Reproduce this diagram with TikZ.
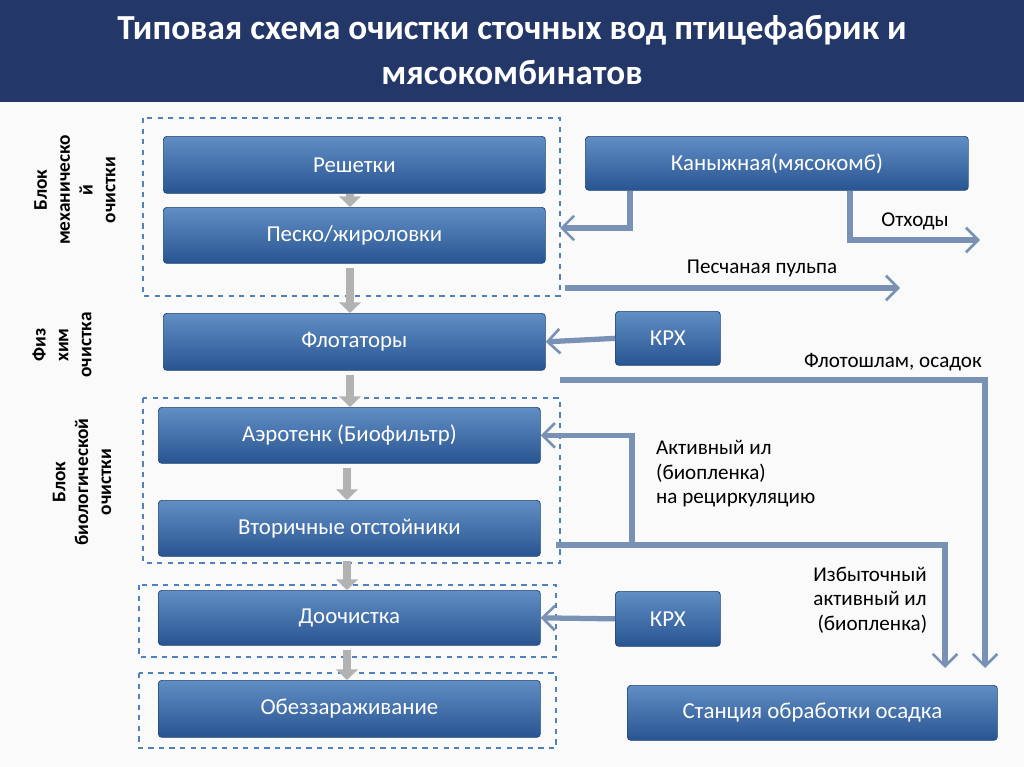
\documentclass[tikz,border=0pt]{standalone}
\usepackage{fontspec}
\setmainfont{Carlito}
\usetikzlibrary{arrows.meta}
\definecolor{boxtop}{RGB}{79,129,189}
\definecolor{boxbot}{RGB}{40,85,145}
\definecolor{pipec}{RGB}{120,145,180}
\definecolor{titlebg}{RGB}{35,55,105}
\begin{document}
\begin{tikzpicture}[x=0.02cm,y=-0.02cm]
  % Стили
  \tikzset{
      blk/.style={draw=boxbot!80!black, rounded corners=2pt, top color=boxtop!90, bottom color=boxbot,
                  text=white, font=\fontsize{13}{15}\selectfont, anchor=north west, inner sep=0pt},
      grp/.style={draw=boxtop, dashed, line width=1pt},
      pipe/.style={draw=pipec, line width=3pt, -{Straight Barb[length=7pt,width=14pt,line width=1.5pt]}},
      pipeln/.style={draw=pipec, line width=3pt},
      down/.style={draw=gray!60, line width=5pt, -{Triangle[length=6pt,width=12pt]}},
      lbl/.style={font=\fontsize{12}{14}\selectfont, align=left},
      side/.style={font=\bfseries\fontsize{11}{13}\selectfont, rotate=90, align=center}
  }
  \useasboundingbox (0,0) rectangle (1024,767);
  \fill[gray!4] (0,0) rectangle (1024,767);
  \fill[titlebg] (0,0) rectangle (1024,102);
  \node[text=white, font=\bfseries\fontsize{20}{26}\selectfont, align=center] (title) at (512,50)
      {Типовая схема очистки сточных вод птицефабрик и\\мясокомбинатов};

  % Блоки
  \node[blk, minimum width=382*0.02cm, minimum height=57*0.02cm] (resh) at (163,136) {Решетки};
  \node[blk, minimum width=382*0.02cm, minimum height=56*0.02cm] (pesk) at (163,207) {Песко/жироловки};
  \node[blk, minimum width=383*0.02cm, minimum height=54*0.02cm] (kan) at (585,136) {Каныжная(мясокомб)};
  \node[blk, minimum width=382*0.02cm, minimum height=57*0.02cm] (flot) at (163,313) {Флотаторы};
  \node[blk, minimum width=105*0.02cm, minimum height=54*0.02cm] (krxa) at (615,311) {КРХ};
  \node[blk, minimum width=382*0.02cm, minimum height=56*0.02cm] (aero) at (158,407) {Аэротенк (Биофильтр)};
  \node[blk, minimum width=382*0.02cm, minimum height=56*0.02cm] (vtor) at (158,500) {Вторичные отстойники};
  \node[blk, minimum width=382*0.02cm, minimum height=55*0.02cm] (doo) at (158,590) {Доочистка};
  \node[blk, minimum width=105*0.02cm, minimum height=55*0.02cm] (krxb) at (615,591) {КРХ};
  \node[blk, minimum width=382*0.02cm, minimum height=57*0.02cm] (obez) at (158,680) {Обеззараживание};
  \node[blk, minimum width=370*0.02cm, minimum height=55*0.02cm] (stan) at (627,685) {Станция обработки осадка};

  % Группы
  \draw[grp] (143,118) rectangle (560,296);
  \draw[grp] (143,398) rectangle (560,563);
  \draw[grp] (139,585) rectangle (556,657);
  \draw[grp] (139,673) rectangle (556,748);

  % Подписи блоков
  \node[side] (smech) at (75,190) {Блок\\механическо\\й\\очистки};
  \node[side] (sfiz) at (62,345) {Физ\\хим\\очистка};
  \node[side] (sbio) at (82,482) {Блок\\биологической\\очистки};

  % Переходы вниз
  \draw[down] (resh.south -| 350,0) -- (pesk.north -| 350,0);
  \draw[down] (pesk.south -| 350,0) ++(0,4) -- (flot.north -| 350,0);
  \draw[down] (flot.south -| 350,0) ++(0,4) -- (aero.north -| 350,0);
  \draw[down] (aero.south -| 347,0) ++(0,4) -- (vtor.north -| 347,0);
  \draw[down] (vtor.south -| 347,0) ++(0,4) -- (doo.north -| 347,0);
  \draw[down] (doo.south -| 347,0) ++(0,4) -- (obez.north -| 347,0);

  % Координаты
  \coordinate (otx) at (980,240);
  \coordinate (pulp) at (900,288);
  \coordinate (flots) at (560,380);
  \coordinate (ils) at (556,545);

  % Потоки
  \draw[pipe] (kan.south -| 630,0) |- (560,228);
  \draw[pipe] (kan.south -| 850,0) |- (otx);
  \node[lbl] (lotx) at (915,221) {Отходы};
  \draw[pipe] (565,288) -- (pulp);
  \node[lbl] (lpulp) at (762,268) {Песчаная пульпа};
  \draw[pipe] (krxa.west) -- (flot.east);
  \draw[pipe] (flots) -| (985,668);
  \node[lbl] (lflot) at (893,362) {Флотошлам, осадок};
  \draw[pipe] (ils) -| (945,668);
  \draw[pipe] (632,545) |- (aero.east);
  \node[lbl, anchor=north west] (lrec) at (650,434) {Активный ил\\(биопленка)\\на рециркуляцию};
  \node[lbl, align=center] (lizb) at (870,600) {Избыточный\\активный ил\\\ (биопленка)};
  \draw[pipe] (krxb.west) -- (doo.east);
\end{tikzpicture}
\end{document}
